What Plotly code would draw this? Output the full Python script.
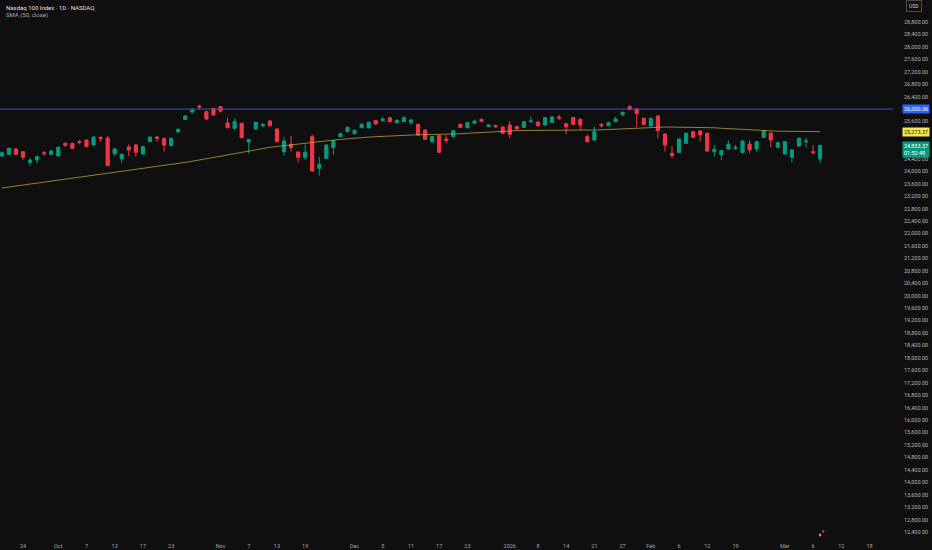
import pandas as pd
import plotly.graph_objects as go

# ---------------- data ----------------
holidays = ["2025-11-27", "2025-12-25", "2026-01-01", "2026-01-19", "2026-02-16"]
calendar = [d for d in pd.bdate_range("2025-09-19", "2026-03-31")
            if d.strftime("%Y-%m-%d") not in holidays]

opens = [24492, 24545, 24717, 24631, 24277, 24363, 24599, 24545, 24492, 24899,
         24899, 24952, 25006, 24845, 25092, 25070, 24567, 24395, 24781, 24845,
         24556, 24952, 25102, 25060, 24824, 25263, 25670, 25906, 26099, 25917,
         26024, 26078, 25552, 25381, 25542, 24942, 25360, 25467, 25617, 25360,
         24631, 24867, 24620, 24449, 25113, 24095, 24417, 24760, 25113, 25274,
         25210, 25402, 25402, 25628, 25628, 25724, 25563, 25595, 25574, 25510,
         25328, 24952, 25145, 25038, 25113, 25510, 25402, 25542, 25671, 25435,
         25467, 25424, 25488, 25435, 25413, 25595, 25585, 25488, 25574, 25746,
         25531, 25724, 25671, 25113, 25006, 25510, 25467, 25595, 25810, 26078,
         26003, 25703, 25456, 25778, 25199, 24577, 24609, 24899, 25274, 25295,
         25221, 24631, 24524, 24717, 24738, 24599, 24877, 24717, 25092, 25231,
         24770, 24556, 24449, 24813, 24952, 24631, 24395]
highs = [24631, 24770, 24738, 24650, 24417, 24502, 24652, 24684, 24792, 24931,
         24920, 25006, 25027, 25124, 25113, 25135, 24760, 24567, 24867, 24877,
         24824, 25113, 25135, 25081, 25081, 25381, 25799, 26024, 26142, 25938,
         26035, 26099, 25724, 25703, 25563, 25049, 25595, 25542, 25638, 25381,
         25113, 25135, 24631, 24867, 25188, 24470, 24867, 25006, 25242, 25435,
         25338, 25542, 25595, 25649, 25756, 25746, 25671, 25767, 25681, 25531,
         25349, 25135, 25167, 25167, 25328, 25542, 25585, 25638, 25681, 25521,
         25499, 25445, 25617, 25467, 25617, 25756, 25606, 25746, 25767, 25810,
         25553, 25746, 25703, 25188, 25435, 25553, 25595, 25756, 25917, 26131,
         26024, 25724, 25724, 25799, 25221, 24813, 25060, 25253, 25295, 25328,
         25242, 24845, 24684, 24985, 24845, 24995, 24985, 24974, 25317, 25253,
         24942, 24974, 24706, 25081, 25081, 24845, 24850]
lows = [24459, 24524, 24524, 24363, 24180, 24256, 24502, 24524, 24470, 24781,
        24727, 24867, 24770, 24835, 24952, 24170, 24492, 24256, 24492, 24470,
        24524, 24942, 24952, 24631, 24813, 25242, 25660, 25863, 25971, 25649,
        25788, 25896, 25381, 25328, 25060, 24577, 25349, 25402, 25435, 24931,
        24502, 24631, 24277, 24363, 23988, 23859, 24395, 24524, 25092, 25253,
        25178, 25381, 25370, 25499, 25595, 25574, 25531, 25574, 25488, 25145,
        25006, 24899, 24588, 24899, 25092, 25392, 25381, 25521, 25585, 25413,
        25402, 25199, 25060, 25338, 25392, 25563, 25435, 25467, 25553, 25649,
        25188, 25488, 25328, 24931, 24974, 25402, 25445, 25574, 25788, 25960,
        25413, 25467, 25435, 25060, 24631, 24417, 24588, 24877, 25070, 24952,
        24631, 24470, 24363, 24684, 24684, 24577, 24577, 24631, 25070, 24760,
        24749, 24535, 24288, 24792, 24760, 24545, 24256]
closes = [24599, 24738, 24545, 24449, 24363, 24470, 24567, 24652, 24770, 24835,
          24738, 24931, 24792, 25102, 25049, 24180, 24717, 24545, 24684, 24609,
          24792, 25102, 25060, 24845, 25060, 25349, 25778, 25981, 26067, 25681,
          25810, 25938, 25402, 25595, 25081, 25017, 25574, 25510, 25467, 24952,
          24974, 24760, 24449, 24609, 24009, 24224, 24845, 24985, 25210, 25413,
          25317, 25510, 25574, 25521, 25681, 25595, 25638, 25724, 25649, 25167,
          25027, 25113, 24609, 24995, 25306, 25413, 25563, 25617, 25606, 25488,
          25435, 25221, 25188, 25360, 25595, 25617, 25467, 25724, 25746, 25703,
          25424, 25510, 25488, 24952, 25274, 25467, 25563, 25681, 25896, 25981,
          25853, 25510, 25703, 25306, 24845, 24502, 25038, 25221, 25092, 25167,
          24652, 24706, 24663, 24867, 24770, 24974, 24684, 24952, 25295, 25006,
          24920, 24952, 24684, 25060, 24974, 24599, 24833.37]
sma50 = [23461, 23492, 23524, 23555, 23586, 23618, 23649, 23680, 23711, 23743,
         23774, 23805, 23837, 23868, 23899, 23931, 23962, 23993, 24024, 24056,
         24087, 24118, 24150, 24181, 24212, 24249, 24286, 24323, 24363, 24407,
         24451, 24495, 24540, 24585, 24622, 24659, 24696, 24733, 24770, 24798,
         24826, 24854, 24882, 24910, 24933, 24956, 24979, 25002, 25025, 25048,
         25070, 25084, 25098, 25112, 25126, 25140, 25154, 25167, 25170, 25174,
         25177, 25180, 25184, 25187, 25190, 25206, 25222, 25237, 25253, 25269,
         25285, 25300, 25304, 25308, 25312, 25316, 25320, 25324, 25327, 25327,
         25328, 25327, 25328, 25327, 25327, 25327, 25339, 25351, 25363, 25375,
         25388, 25400, 25412, 25424, 25423, 25421, 25420, 25419, 25417, 25416,
         25414, 25399, 25384, 25369, 25354, 25340, 25325, 25310, 25295, 25292,
         25289, 25287, 25284, 25281, 25278, 25276, 25273.37]

h_level = 26000.36
last_price = 24833.37
sma_last = 25273.37
countdown = "01:52:48"

tick_dates = ["2025-09-24", "2025-10-01", "2025-10-07", "2025-10-13", "2025-10-17",
              "2025-10-23", "2025-11-03", "2025-11-07", "2025-11-13", "2025-11-19",
              "2025-12-01", "2025-12-05", "2025-12-11", "2025-12-17", "2025-12-23",
              "2026-01-02", "2026-01-08", "2026-01-14", "2026-01-21", "2026-01-27",
              "2026-02-02", "2026-02-06", "2026-02-12", "2026-02-19", "2026-03-02",
              "2026-03-06", "2026-03-12", "2026-03-18", "2026-03-24"]
tick_labels = ["24", "Oct", "7", "13", "17", "23", "Nov", "7", "13", "19",
               "Dec", "5", "11", "17", "23", "2026", "8", "14", "21", "27",
               "Feb", "6", "12", "19", "Mar", "6", "12", "18", "24"]

price_ticks = list(range(12400, 28801, 400))
hidden_ticks = [26000, 25200, 24800]

# ---------------- build ----------------
cal_str = [d.strftime("%Y-%m-%d") for d in calendar]
xs = list(range(len(opens)))
tickvals = [cal_str.index(d) for d in tick_dates]
ytv = [v for v in price_ticks if v not in hidden_ticks]
ytt = [f"{v:,.2f}" for v in ytv]

UP = "#089981"
DN = "#f23645"
BG = "#0f0f0f"
FONT = "Roboto"

fig = go.Figure()
fig.add_trace(go.Candlestick(
    x=xs, open=opens, high=highs, low=lows, close=closes,
    increasing=dict(line=dict(color=UP, width=1), fillcolor=UP),
    decreasing=dict(line=dict(color=DN, width=1), fillcolor=DN),
    whiskerwidth=0, showlegend=False, hoverinfo="skip"))
fig.add_trace(go.Scatter(
    x=xs, y=sma50, mode="lines",
    line=dict(color="rgba(196,180,70,0.7)", width=1),
    showlegend=False, hoverinfo="skip"))

fig.add_hline(y=h_level, line=dict(color="#3358c8", width=1))

W, H = 932, 550
ML, MR, MT, MB = 0, 39, 0, 12
PW = W - ML - MR
PH = H - MT - MB

def px_x(p):
    return (p - ML) / PW

def px_y(p):
    return 1 - (p - MT) / PH

annotations = [
    dict(text="Nasdaq 100 Index · 1D · NASDAQ", xref="paper", yref="paper",
         x=px_x(4), y=px_y(2), xanchor="left", yanchor="top", showarrow=False,
         font=dict(family=FONT, size=6, color="#e0e0e0")),
    dict(text="SMA (50, close)", xref="paper", yref="paper",
         x=px_x(4), y=px_y(9.5), xanchor="left", yanchor="top", showarrow=False,
         font=dict(family=FONT, size=6, color="#a8a8a8")),
    dict(text="USD", xref="paper", yref="paper",
         x=px_x(914), y=px_y(6), xanchor="center", yanchor="middle", showarrow=False,
         font=dict(family=FONT, size=5, color="#d0d0d0"),
         bordercolor="#4a4a4a", borderwidth=1, borderpad=2, bgcolor=BG),
    dict(text=f"{h_level:,.2f}", xref="paper", yref="y",
         x=px_x(930), y=h_level, xanchor="right", yanchor="middle", showarrow=False,
         font=dict(family=FONT, size=5.5, color="#ffffff"),
         bgcolor="#2962ff", borderpad=1),
    dict(text=f"{sma_last:,.2f}", xref="paper", yref="y",
         x=px_x(930), y=sma_last, xanchor="right", yanchor="middle", showarrow=False,
         font=dict(family=FONT, size=5.5, color="#1a1a1a"),
         bgcolor="#f7e94c", borderpad=1),
    dict(text=f"{last_price:,.2f}<br>{countdown}", xref="paper", yref="y",
         x=px_x(930), y=last_price, xanchor="right", yanchor="top", yshift=4,
         showarrow=False, align="left",
         font=dict(family=FONT, size=5.5, color="#ffffff"),
         bgcolor=UP, borderpad=1),
]

cx, cy = px_x(820), px_y(535)
r = 4.0 / PW, 4.0 / PH
shapes = [
    dict(type="circle", xref="paper", yref="paper", layer="above",
         x0=cx - r[0], x1=cx + r[0], y0=cy - r[1], y1=cy + r[1],
         line=dict(color="#b45ad6", width=1.5), fillcolor="rgba(110,40,140,0.35)"),
    dict(type="circle", xref="paper", yref="paper", layer="above",
         x0=cx - 1.4 / PW, x1=cx + 1.4 / PW, y0=cy - 1.4 / PH, y1=cy + 1.4 / PH,
         line=dict(width=0), fillcolor="#d070c0"),
    dict(type="circle", xref="paper", yref="paper", layer="above",
         x0=px_x(822), x1=px_x(824.4), y0=px_y(532.6), y1=px_y(530.2),
         line=dict(width=0), fillcolor="#f23645"),
]

y_top = 28800 + (22 - 0) / 12.44 * 400
y_bot = 28800 - (538 - 22) / 12.44 * 400

fig.update_layout(
    width=W, height=H,
    margin=dict(l=ML, r=MR, t=MT, b=MB),
    paper_bgcolor=BG, plot_bgcolor=BG,
    boxgap=0.36,
    hovermode=False,
    xaxis=dict(range=[-0.26, 126.33], tickvals=tickvals, ticktext=tick_labels,
               showgrid=False, zeroline=False, showline=False, ticks="",
               rangeslider=dict(visible=False), fixedrange=True,
               tickfont=dict(family=FONT, size=5.5, color="#a6a6a6"),
               ticklabelstandoff=3),
    yaxis=dict(side="right", range=[y_bot, y_top], tickvals=ytv, ticktext=ytt,
               showgrid=False, zeroline=False, showline=False, ticks="",
               tickfont=dict(family=FONT, size=5.5, color="#b4b4b4"),
               ticklabelstandoff=10, fixedrange=True),
    annotations=annotations,
    shapes=shapes,
)

fig.write_html("out.html", config={"displayModeBar": False})

# remove the default page margin so the figure sits at the window's top-left corner
with open("out.html", "r", encoding="utf-8") as fh:
    page = fh.read()
page = page.replace("<head>", "<head><style>html,body{margin:0;padding:0;background:#0f0f0f;overflow:hidden;}</style>", 1)
with open("out.html", "w", encoding="utf-8") as fh:
    fh.write(page)
